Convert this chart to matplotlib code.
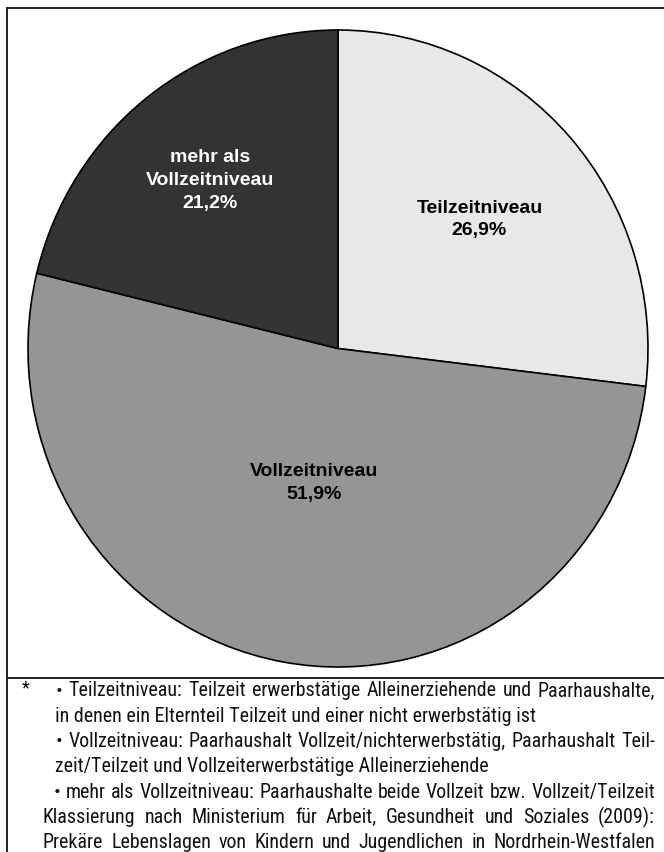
import matplotlib
matplotlib.use("Agg")
import matplotlib.pyplot as plt
from matplotlib.lines import Line2D
from matplotlib import font_manager
import numpy as np

# Anteile laut Grafik
labels = ["Teilzeitniveau", "Vollzeitniveau", "mehr als\nVollzeitniveau"]
shares = [26.9, 51.9, 21.2]
colors = ["#e8e8e8", "#959595", "#333333"]
text_colors = ["black", "black", "white"]
label_r = [0.61, 0.43, 0.67]

notes = [
    ("• Teilzeitniveau: Teilzeit erwerbstätige Alleinerziehende und Paarhaushalte,", 56, True),
    ("in denen ein Elternteil Teilzeit und einer nicht erwerbstätig ist", 55, False),
    ("• Vollzeitniveau: Paarhaushalt Vollzeit/nichterwerbstätig, Paarhaushalt Teil-", 56, True),
    ("zeit/Teilzeit und Vollzeiterwerbstätige Alleinerziehende", 55, False),
    ("• mehr als Vollzeitniveau: Paarhaushalte beide Vollzeit bzw. Vollzeit/Teilzeit", 54, True),
    ("Klassierung nach Ministerium für Arbeit, Gesundheit und Soziales (2009):", 43, True),
    ("Prekäre Lebenslagen von Kindern und Jugendlichen in Nordrhein-Westfalen", 43, True),
]

W, H = 664, 852
names = {f.name for f in font_manager.fontManager.ttflist}
prefer = ["Liberation Sans Narrow", "Roboto Condensed", "Open Sans Condensed",
          "DejaVu Sans Condensed", "Roboto", "Liberation Sans"]
note_font = next(n for n in prefer + ["DejaVu Sans"] if n in names or n == "DejaVu Sans")

fig = plt.figure(figsize=(W / 100, H / 100), dpi=100)
fig.patch.set_facecolor("white")

# Kreisdiagramm (Pixelrahmen aus der Vorlage)
left, right, top, bottom = 28, 648, 30, 667
ax = fig.add_axes([left / W, 1 - bottom / H, (right - left) / W, (bottom - top) / H])
wedges, _ = ax.pie(shares, colors=colors, startangle=90, counterclock=False,
                   radius=1, wedgeprops=dict(edgecolor="black", linewidth=1.2))
ax.set_xlim(-1, 1)
ax.set_ylim(-1, 1)
ax.set_aspect("auto")
ax.axis("off")

for w, lab, val, tc, r in zip(wedges, labels, shares, text_colors, label_r):
    ang = np.deg2rad((w.theta1 + w.theta2) / 2)
    ax.text(r * np.cos(ang), r * np.sin(ang),
            lab + "\n" + ("%.1f%%" % val).replace(".", ","),
            ha="center", va="center", color=tc, fontsize=14,
            fontweight="bold", family="Liberation Sans", linespacing=1.45)

# Rahmenlinien
def px_line(x0, y0, x1, y1):
    fig.add_artist(Line2D([x0 / W, x1 / W], [1 - y0 / H, 1 - y1 / H],
                          transform=fig.transFigure, color="#222222", lw=1.4))

px_line(7, 8, W, 8)
px_line(7, 8, 7, H)
px_line(7, 678, W, 678)

# Fussnote: Schriftgroesse so, dass die laengste Zeile gerade passt
renderer = fig.canvas.get_renderer()
x_end = 655
size = 20.0
for line, x0, justify in notes:
    if not justify:
        continue
    t = fig.text(0, 0, line, fontsize=13.5, family=[note_font, "DejaVu Sans"])
    wdt = t.get_window_extent(renderer).width
    t.remove()
    size = min(size, 13.5 * (x_end - x0) / wdt * 0.995)
size = min(size, 14.5)

fig.text(22 / W, 1 - 688 / H, "*", fontsize=13, family=note_font, va="center")
for i, (line, x0, justify) in enumerate(notes):
    y = 1 - (691 + 25.3 * i) / H
    kw = dict(fontsize=size, family=[note_font, "DejaVu Sans"], va="center", color="#111111")
    if not justify:
        fig.text(x0 / W, y, line, **kw)
        continue
    words = line.split(" ")
    arts = [fig.text(0, y, wd, **kw) for wd in words]
    widths = [a.get_window_extent(renderer).width for a in arts]
    gap = (x_end - x0 - sum(widths)) / (len(words) - 1)
    x = x0
    for a, wd in zip(arts, widths):
        a.set_x(x / W)
        x += wd + gap

fig.savefig("out.png", dpi=100)
